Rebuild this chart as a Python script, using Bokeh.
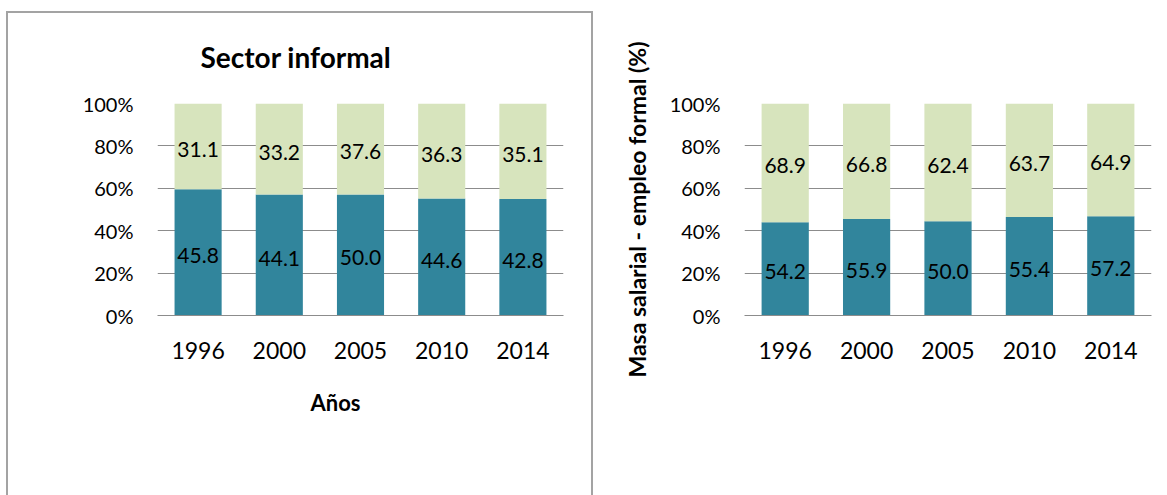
from bokeh.plotting import figure
from bokeh.models import (ColumnDataSource, LabelSet, Legend, LegendItem, Title,
                          NumeralTickFormatter, FixedTicker, Range1d, FactorRange)
from bokeh.layouts import row
from bokeh.embed import file_html
from bokeh.resources import INLINE
from bokeh.core.properties import value

# ---------------- data ----------------
years = ["1996", "2000", "2005", "2010", "2014"]
informal_masa = [45.8, 44.1, 50.0, 44.6, 42.8]
informal_empleo = [31.1, 33.2, 37.6, 36.3, 35.1]
formal_masa = [54.2, 55.9, 50.0, 55.4, 57.2]
formal_empleo = [68.9, 66.8, 62.4, 63.7, 64.9]
y_ticks = [0, 0.2, 0.4, 0.6, 0.8, 1.0]

TEAL = "#31859C"
GREEN = "#D7E4BD"
GRID = "#8c8c8c"
BC = "#a3a3a3"
FONT = "Lato"
H = 495


def line(x, y, w, h):
    return f"linear-gradient({BC},{BC}) {x} {y} / {w} {h} no-repeat"


def panel(title, masa, empleo, ylabel, legend2, width, mb_left, mb_right,
          title_off, anos_off, bg, titles, ylab):
    tot = [a + b for a, b in zip(masa, empleo)]
    m = [a / t for a, t in zip(masa, tot)]
    e = [b / t for b, t in zip(empleo, tot)]
    src = ColumnDataSource(dict(
        year=years, m=m, e=e,
        ym=[v / 2 for v in m], ye=[a + b / 2 for a, b in zip(m, e)],
        tm=["%.1f" % v for v in masa], te=["%.1f" % v for v in empleo]))

    p = figure(x_range=FactorRange(factors=years, range_padding=0), y_range=Range1d(0, 1),
               width=width, height=H, output_backend="svg", toolbar_location=None,
               min_border_left=mb_left, min_border_right=mb_right,
               min_border_top=103, min_border_bottom=180)
    p.outline_line_color = None
    p.background_fill_color = "white"
    if titles:
        p.border_fill_color = None
        p.styles = {"background": bg}

    rs = p.vbar_stack(["m", "e"], x="year", width=0.58, color=[TEAL, GREEN],
                      line_color=None, source=src)

    p.xgrid.grid_line_color = None
    p.ygrid.ticker = FixedTicker(ticks=y_ticks)
    p.ygrid.grid_line_color = GRID

    p.yaxis.ticker = FixedTicker(ticks=y_ticks)
    p.yaxis.formatter = NumeralTickFormatter(format="0%")
    p.yaxis.axis_line_color = None
    p.yaxis.major_tick_line_color = None
    p.yaxis.minor_tick_line_color = None
    p.yaxis.major_tick_out = 0
    p.yaxis.major_label_standoff = 24
    p.yaxis.major_label_text_font = FONT
    p.yaxis.major_label_text_font_size = "20px"
    p.yaxis.major_label_text_color = "#000000"
    if ylab:
        p.yaxis.axis_label = ylabel
        p.yaxis.axis_label_standoff = 16
        p.yaxis.axis_label_text_font = FONT
        p.yaxis.axis_label_text_font_style = "bold"
        p.yaxis.axis_label_text_font_size = "23px"
        p.yaxis.axis_label_text_color = "#000000"

    p.xaxis.axis_line_color = GRID
    p.xaxis.major_tick_line_color = None
    p.xaxis.minor_tick_line_color = None
    p.xaxis.major_tick_out = 0
    p.xaxis.major_label_standoff = 26
    p.xaxis.major_label_text_font = FONT
    p.xaxis.major_label_text_font_size = "23px"
    p.xaxis.major_label_text_color = "#000000"

    for col, tcol in (("ym", "tm"), ("ye", "te")):
        p.add_layout(LabelSet(x="year", y=col, text=tcol, source=src,
                              text_align="center", text_baseline="middle", y_offset=-3,
                              text_font=value(FONT), text_font_size="21px",
                              text_color="#000000"))

    if titles:
        p.add_layout(Title(text=title, align="left", offset=title_off, standoff=60,
                           text_font=FONT, text_font_style="bold", text_font_size="28px",
                           text_color="#000000"), "above")
        p.add_layout(Title(text="Años", align="left", offset=anos_off, standoff=54,
                           vertical_align="top",
                           text_font=FONT, text_font_style="bold", text_font_size="22px",
                           text_color="#000000"), "below")
    return p


bg1 = ", ".join([line("6px", "11px", "2px", "100%"),
                 line("6px", "11px", "587px", "2px"),
                 line("591px", "11px", "2px", "100%"),
                 "#ffffff"])
bg2 = ", ".join([line("1px", "11px", "2px", "100%"),
                 line("1px", "11px", "100%", "2px"),
                 "#ffffff"])

p1 = panel("Sector informal", informal_masa, informal_empleo,
           "Masa sarial - empelo informal (%)", "Empleo Informal",
           width=593, mb_left=157, mb_right=30,
           title_off=43, anos_off=153, bg=bg1, titles=True, ylab=False)
p2 = panel("Sector Formal", formal_masa, formal_empleo,
           "Masa salarial - empleo formal (%)", "Empleo formal",
           width=574, mb_left=151, mb_right=16,
           title_off=53, anos_off=139, bg=bg2, titles=False, ylab=True)

layout = row(p1, p2)
open("out.html", "w").write(file_html(layout, INLINE))
